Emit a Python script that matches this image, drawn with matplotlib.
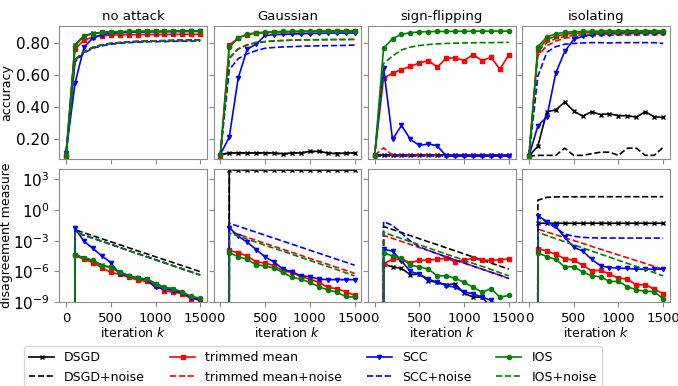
import matplotlib
matplotlib.use('Agg')
import matplotlib.pyplot as plt
from matplotlib.ticker import NullLocator, FixedLocator, LogFormatterMathtext

# ---------------- data ----------------
iterations = [0, 100, 200, 300, 400, 500, 600, 700, 800, 900, 1000, 1100, 1200, 1300, 1400, 1500]
titles = ["no attack", "Gaussian", "sign-flipping", "isolating"]
methods = ["DSGD", "DSGD+noise", "trimmed mean", "trimmed mean+noise", "SCC", "SCC+noise", "IOS", "IOS+noise"]

# accuracy -- no attack
acc_na_dsgd = [0.10, 0.785, 0.842, 0.858, 0.864, 0.867, 0.868, 0.869, 0.87, 0.87, 0.871, 0.871, 0.871, 0.872, 0.872, 0.872]
acc_na_dsgd_n = [0.09, 0.69, 0.74, 0.77, 0.785, 0.795, 0.80, 0.805, 0.808, 0.81, 0.812, 0.813, 0.815, 0.816, 0.817, 0.818]
acc_na_tm = [0.09, 0.76, 0.815, 0.835, 0.843, 0.847, 0.849, 0.85, 0.85, 0.851, 0.851, 0.851, 0.852, 0.852, 0.852, 0.852]
acc_na_tm_n = [0.09, 0.69, 0.74, 0.77, 0.785, 0.795, 0.80, 0.804, 0.806, 0.808, 0.81, 0.811, 0.812, 0.813, 0.814, 0.815]
acc_na_scc = [0.11, 0.545, 0.77, 0.83, 0.85, 0.858, 0.862, 0.864, 0.866, 0.867, 0.868, 0.868, 0.869, 0.869, 0.87, 0.87]
acc_na_scc_n = [0.11, 0.68, 0.735, 0.765, 0.78, 0.79, 0.796, 0.80, 0.803, 0.805, 0.806, 0.807, 0.808, 0.809, 0.81, 0.81]
acc_na_ios = [0.09, 0.78, 0.84, 0.857, 0.864, 0.867, 0.869, 0.87, 0.87, 0.871, 0.871, 0.871, 0.872, 0.872, 0.872, 0.873]
acc_na_ios_n = [0.09, 0.695, 0.745, 0.772, 0.787, 0.796, 0.801, 0.805, 0.808, 0.81, 0.811, 0.812, 0.813, 0.814, 0.815, 0.816]

# accuracy -- Gaussian
acc_g_dsgd = [0.10, 0.11, 0.11, 0.11, 0.11, 0.11, 0.11, 0.105, 0.11, 0.11, 0.12, 0.12, 0.11, 0.105, 0.11, 0.11]
acc_g_dsgd_n = [0.10, 0.11, 0.11, 0.11, 0.11, 0.11, 0.11, 0.10, 0.11, 0.11, 0.115, 0.12, 0.11, 0.11, 0.105, 0.11]
acc_g_tm = [0.09, 0.785, 0.83, 0.85, 0.858, 0.862, 0.864, 0.866, 0.867, 0.868, 0.869, 0.87, 0.87, 0.871, 0.871, 0.872]
acc_g_tm_n = [0.10, 0.70, 0.76, 0.785, 0.80, 0.806, 0.81, 0.813, 0.815, 0.816, 0.817, 0.818, 0.818, 0.819, 0.819, 0.82]
acc_g_scc = [0.10, 0.21, 0.58, 0.76, 0.79, 0.845, 0.85, 0.852, 0.854, 0.856, 0.857, 0.858, 0.859, 0.86, 0.86, 0.86]
acc_g_scc_n = [0.10, 0.63, 0.70, 0.73, 0.75, 0.765, 0.77, 0.773, 0.775, 0.777, 0.779, 0.78, 0.781, 0.782, 0.783, 0.785]
acc_g_ios = [0.10, 0.77, 0.83, 0.853, 0.862, 0.866, 0.868, 0.87, 0.871, 0.872, 0.872, 0.873, 0.873, 0.874, 0.874, 0.875]
acc_g_ios_n = [0.10, 0.705, 0.762, 0.787, 0.80, 0.807, 0.811, 0.814, 0.816, 0.817, 0.818, 0.819, 0.82, 0.82, 0.821, 0.821]

# accuracy -- sign-flipping
acc_s_dsgd = [0.095, 0.095, 0.095, 0.095, 0.095, 0.095, 0.095, 0.095, 0.095, 0.095, 0.095, 0.095, 0.095, 0.095, 0.095, 0.095]
acc_s_dsgd_n = [0.095, 0.095, 0.095, 0.095, 0.095, 0.095, 0.095, 0.095, 0.095, 0.095, 0.095, 0.095, 0.095, 0.095, 0.095, 0.095]
acc_s_tm = [0.095, 0.58, 0.608, 0.632, 0.652, 0.673, 0.688, 0.647, 0.703, 0.705, 0.688, 0.725, 0.688, 0.708, 0.634, 0.725]
acc_s_tm_n = [0.095, 0.142, 0.095, 0.095, 0.095, 0.095, 0.095, 0.095, 0.095, 0.095, 0.095, 0.095, 0.095, 0.095, 0.095, 0.095]
acc_s_scc = [0.09, 0.64, 0.195, 0.282, 0.195, 0.157, 0.166, 0.155, 0.09, 0.09, 0.09, 0.09, 0.09, 0.09, 0.09, 0.09]
acc_s_scc_n = [0.09, 0.09, 0.09, 0.09, 0.09, 0.09, 0.09, 0.09, 0.09, 0.09, 0.09, 0.09, 0.09, 0.09, 0.09, 0.09]
acc_s_ios = [0.09, 0.765, 0.825, 0.852, 0.862, 0.867, 0.869, 0.87, 0.87, 0.871, 0.871, 0.871, 0.872, 0.872, 0.872, 0.872]
acc_s_ios_n = [0.09, 0.669, 0.716, 0.755, 0.772, 0.782, 0.788, 0.792, 0.795, 0.797, 0.798, 0.799, 0.80, 0.80, 0.801, 0.802]

# accuracy -- isolating
acc_i_dsgd = [0.09, 0.153, 0.368, 0.379, 0.428, 0.372, 0.34, 0.368, 0.35, 0.355, 0.343, 0.343, 0.334, 0.368, 0.336, 0.332]
acc_i_dsgd_n = [0.09, 0.095, 0.095, 0.095, 0.14, 0.095, 0.095, 0.105, 0.115, 0.115, 0.095, 0.14, 0.14, 0.095, 0.095, 0.145]
acc_i_tm = [0.09, 0.755, 0.82, 0.84, 0.852, 0.858, 0.862, 0.864, 0.865, 0.866, 0.867, 0.867, 0.868, 0.868, 0.868, 0.868]
acc_i_tm_n = [0.09, 0.72, 0.78, 0.81, 0.828, 0.835, 0.84, 0.843, 0.845, 0.846, 0.847, 0.848, 0.848, 0.849, 0.849, 0.85]
acc_i_scc = [0.09, 0.28, 0.335, 0.61, 0.745, 0.82, 0.84, 0.85, 0.855, 0.857, 0.858, 0.859, 0.86, 0.86, 0.86, 0.86]
acc_i_scc_n = [0.09, 0.59, 0.74, 0.775, 0.79, 0.795, 0.798, 0.80, 0.80, 0.798, 0.80, 0.80, 0.80, 0.80, 0.80, 0.795]
acc_i_ios = [0.09, 0.775, 0.835, 0.855, 0.865, 0.868, 0.87, 0.871, 0.872, 0.873, 0.873, 0.874, 0.874, 0.875, 0.875, 0.875]
acc_i_ios_n = [0.09, 0.745, 0.80, 0.825, 0.838, 0.845, 0.85, 0.852, 0.854, 0.855, 0.856, 0.857, 0.857, 0.858, 0.858, 0.858]

# disagreement -- no attack
dis_na_dsgd = [0, 4.2e-5, 2.0e-5, 1.1e-5, 3.8e-6, 2.4e-6, 8.0e-7, 3.8e-7, 2.0e-7, 1.8e-7, 6.3e-8, 2.5e-8, 1.8e-8, 8.0e-9, 3.0e-9, 2.0e-9]
dis_na_dsgd_n = [0, 1.17e-2, 6.0e-3, 3.0e-3, 1.55e-3, 7.8e-4, 4.0e-4, 2.0e-4, 1.0e-4, 5.2e-5, 2.6e-5, 1.35e-5, 6.9e-6, 3.5e-6, 1.8e-6, 9.0e-7]
dis_na_tm = [0, 3.6e-5, 1.5e-5, 7.1e-6, 2.3e-6, 7.6e-7, 5.2e-7, 2.5e-7, 1.4e-7, 1.0e-7, 3.9e-8, 1.26e-8, 8.9e-9, 6.3e-9, 2.0e-9, 1.6e-9]
dis_na_tm_n = [0, 6.9e-3, 3.5e-3, 1.75e-3, 8.7e-4, 4.4e-4, 2.2e-4, 1.07e-4, 5.4e-5, 2.7e-5, 1.35e-5, 6.8e-6, 3.4e-6, 1.7e-6, 8.5e-7, 4.3e-7]
dis_na_scc = [0, 1.7e-2, 8.7e-4, 1.74e-4, 3.16e-5, 7.1e-6, 5.2e-7, 3.5e-7, 2.1e-7, 1.4e-7, 2.7e-8, 1.9e-8, 1.26e-8, 7.1e-9, 2.5e-9, 1.4e-9]
dis_na_scc_n = [0, 7.0e-3, 3.5e-3, 1.76e-3, 8.8e-4, 4.4e-4, 2.2e-4, 1.08e-4, 5.4e-5, 2.7e-5, 1.36e-5, 6.8e-6, 3.4e-6, 1.7e-6, 8.6e-7, 4.3e-7]
dis_na_ios = [0, 4.0e-5, 2.1e-5, 1.26e-5, 3.4e-6, 2.7e-6, 7.6e-7, 3.5e-7, 2.1e-7, 1.7e-7, 5.8e-8, 2.7e-8, 1.9e-8, 8.9e-9, 3.4e-9, 2.3e-9]
dis_na_ios_n = [0, 6.8e-3, 3.4e-3, 1.7e-3, 8.6e-4, 4.3e-4, 2.15e-4, 1.06e-4, 5.3e-5, 2.65e-5, 1.33e-5, 6.7e-6, 3.35e-6, 1.68e-6, 8.4e-7, 4.2e-7]

# disagreement -- Gaussian
dis_g_dsgd = [0, 9.0e3, 9.0e3, 9.0e3, 9.0e3, 9.0e3, 9.0e3, 9.0e3, 9.0e3, 9.0e3, 9.0e3, 9.0e3, 9.0e3, 9.0e3, 9.0e3, 9.0e3]
dis_g_dsgd_n = [0, 8.5e3, 8.5e3, 8.5e3, 8.5e3, 8.5e3, 8.5e3, 8.5e3, 8.5e3, 8.5e3, 8.5e3, 8.5e3, 8.5e3, 8.5e3, 8.5e3, 8.5e3]
dis_g_tm = [0, 1.1e-4, 6.5e-5, 3.1e-5, 8.1e-6, 6.5e-6, 3.4e-6, 1.1e-6, 7.6e-7, 2.9e-7, 1.7e-7, 8.1e-8, 2.7e-8, 1.9e-8, 1.0e-8, 4.3e-9]
dis_g_tm_n = [0, 8.1e-3, 4.2e-3, 2.1e-3, 1.07e-3, 5.4e-4, 2.75e-4, 1.4e-4, 7.1e-5, 3.6e-5, 1.8e-5, 9.3e-6, 4.8e-6, 2.4e-6, 1.23e-6, 6.2e-7]
dis_g_scc = [0, 1.95e-2, 2.7e-3, 7.1e-4, 1.35e-4, 2.5e-5, 8.1e-6, 1.6e-6, 8.9e-7, 3.6e-7, 2.9e-7, 1.7e-7, 1.5e-7, 1.5e-7, 1.48e-7, 1.5e-7]
dis_g_scc_n = [0, 5.1e-2, 2.6e-2, 1.3e-2, 6.8e-3, 3.4e-3, 1.74e-3, 8.9e-4, 4.5e-4, 2.3e-4, 1.15e-4, 5.9e-5, 3.0e-5, 1.5e-5, 7.8e-6, 3.9e-6]
dis_g_ios = [0, 6.5e-5, 2.7e-5, 1.5e-5, 4.2e-6, 3.4e-6, 2.0e-6, 7.6e-7, 2.5e-7, 1.7e-7, 8.1e-8, 3.1e-8, 1.5e-8, 8.9e-9, 3.4e-9, 2.9e-9]
dis_g_ios_n = [0, 5.6e-3, 2.8e-3, 1.4e-3, 7.1e-4, 3.5e-4, 1.8e-4, 9.1e-5, 4.6e-5, 2.3e-5, 1.15e-5, 5.8e-6, 2.9e-6, 1.45e-6, 7.2e-7, 3.6e-7]

# disagreement -- sign-flipping
dis_s_dsgd = [0, 4.9e-6, 2.7e-6, 1.9e-6, 4.6e-7, 5.2e-7, 1.2e-7, 8.1e-8, 4.9e-8, 5.6e-8, 7.1e-9, 2.9e-9, 2.9e-9, 3.2e-10, 1.0e-10, 3.2e-11]
dis_s_dsgd_n = [0, 2.45e-2, 1.23e-2, 6.2e-3, 3.1e-3, 1.55e-3, 7.8e-4, 4.0e-4, 2.0e-4, 1.0e-4, 5.0e-5, 2.5e-5, 1.26e-5, 6.3e-6, 3.2e-6, 1.6e-6]
dis_s_tm = [0, 5.6e-6, 1.5e-5, 1.5e-5, 7.1e-6, 1.17e-5, 1.26e-5, 1.5e-5, 1.9e-5, 8.7e-6, 1.26e-5, 1.9e-5, 1.17e-5, 1.26e-5, 1.26e-5, 1.7e-5]
dis_s_tm_n = [0, 3.3e-3, 1.66e-3, 8.3e-4, 4.2e-4, 2.1e-4, 1.05e-4, 5.2e-5, 2.6e-5, 1.3e-5, 6.5e-6, 3.2e-6, 1.6e-6, 8.1e-7, 4.1e-7, 2.0e-7]
dis_s_scc = [0, 1.4e-4, 9.5e-5, 1.0e-5, 9.5e-7, 5.2e-7, 1.7e-7, 8.1e-8, 3.9e-8, 2.7e-8, 8.9e-9, 6.3e-9, 2.9e-9, 1.4e-9, 2.5e-10, 6.3e-11]
dis_s_scc_n = [0, 7.4e-2, 3.1e-2, 5.6e-3, 8.9e-4, 2.5e-4, 1.1e-4, 5.4e-5, 2.5e-5, 1.26e-5, 6.3e-6, 3.2e-6, 1.6e-6, 7.9e-7, 4.0e-7, 1.9e-7]
dis_s_ios = [0, 6.5e-5, 3.1e-5, 1.9e-5, 3.9e-6, 2.7e-6, 1.6e-6, 3.6e-7, 3.6e-7, 2.1e-7, 8.1e-8, 2.7e-8, 8.9e-9, 1.9e-8, 2.9e-9, 4.3e-9]
dis_s_ios_n = [0, 6.5e-3, 3.2e-3, 1.6e-3, 7.9e-4, 3.9e-4, 1.95e-4, 9.8e-5, 4.8e-5, 2.4e-5, 1.2e-5, 5.9e-6, 3.0e-6, 1.5e-6, 7.2e-7, 3.6e-7]

# disagreement -- isolating
dis_i_dsgd = [0, 5.1e-2, 5.1e-2, 5.1e-2, 5.1e-2, 5.1e-2, 5.1e-2, 5.1e-2, 5.1e-2, 5.1e-2, 5.1e-2, 5.1e-2, 5.1e-2, 5.1e-2, 5.1e-2, 5.1e-2]
dis_i_dsgd_n = [0, 9.3, 17.8, 19.5, 20.0, 20.0, 20.2, 20.2, 20.3, 20.3, 20.3, 20.4, 20.4, 20.4, 20.4, 20.4]
dis_i_tm = [0, 1.7e-4, 9.5e-5, 4.5e-5, 1.7e-5, 1.17e-5, 3.9e-6, 1.1e-6, 1.26e-6, 5.2e-7, 2.1e-7, 1.7e-7, 4.5e-8, 4.9e-8, 1.74e-8, 6.3e-9]
dis_i_tm_n = [0, 1.35e-2, 7.1e-3, 3.7e-3, 1.95e-3, 1.02e-3, 5.4e-4, 2.75e-4, 1.45e-4, 7.6e-5, 4.0e-5, 2.1e-5, 1.1e-5, 5.8e-6, 3.0e-6, 1.6e-6]
dis_i_scc = [0, 0.28, 7.4e-2, 2.45e-2, 2.1e-3, 2.3e-4, 9.5e-5, 1.5e-5, 3.4e-6, 2.3e-6, 2.0e-6, 1.9e-6, 1.6e-6, 1.6e-6, 1.6e-6, 1.6e-6]
dis_i_scc_n = [0, 0.22, 6.5e-2, 1.7e-2, 4.5e-3, 2.7e-3, 2.1e-3, 1.9e-3, 1.85e-3, 1.8e-3, 1.8e-3, 1.8e-3, 1.8e-3, 1.8e-3, 1.8e-3, 1.8e-3]
dis_i_ios = [0, 6.5e-5, 2.7e-5, 1.5e-5, 2.7e-6, 2.7e-6, 8.9e-7, 3.6e-7, 2.9e-7, 1.0e-7, 1.0e-7, 3.1e-8, 1.5e-8, 1.1e-8, 1.0e-8, 2.0e-9]
dis_i_ios_n = [0, 6.5e-3, 3.2e-3, 1.6e-3, 7.9e-4, 3.9e-4, 1.95e-4, 9.8e-5, 4.8e-5, 2.4e-5, 1.2e-5, 5.9e-6, 3.0e-6, 1.5e-6, 7.2e-7, 3.6e-7]

acc_table = [
    [acc_na_dsgd, acc_na_dsgd_n, acc_na_tm, acc_na_tm_n, acc_na_scc, acc_na_scc_n, acc_na_ios, acc_na_ios_n],
    [acc_g_dsgd, acc_g_dsgd_n, acc_g_tm, acc_g_tm_n, acc_g_scc, acc_g_scc_n, acc_g_ios, acc_g_ios_n],
    [acc_s_dsgd, acc_s_dsgd_n, acc_s_tm, acc_s_tm_n, acc_s_scc, acc_s_scc_n, acc_s_ios, acc_s_ios_n],
    [acc_i_dsgd, acc_i_dsgd_n, acc_i_tm, acc_i_tm_n, acc_i_scc, acc_i_scc_n, acc_i_ios, acc_i_ios_n],
]
dis_table = [
    [dis_na_dsgd, dis_na_dsgd_n, dis_na_tm, dis_na_tm_n, dis_na_scc, dis_na_scc_n, dis_na_ios, dis_na_ios_n],
    [dis_g_dsgd, dis_g_dsgd_n, dis_g_tm, dis_g_tm_n, dis_g_scc, dis_g_scc_n, dis_g_ios, dis_g_ios_n],
    [dis_s_dsgd, dis_s_dsgd_n, dis_s_tm, dis_s_tm_n, dis_s_scc, dis_s_scc_n, dis_s_ios, dis_s_ios_n],
    [dis_i_dsgd, dis_i_dsgd_n, dis_i_tm, dis_i_tm_n, dis_i_scc, dis_i_scc_n, dis_i_ios, dis_i_ios_n],
]

# ---------------- style ----------------
colors = ['black', 'black', 'red', 'red', 'blue', 'blue', 'green', 'green']
markers = ['x', None, 's', None, 'v', None, 'o', None]
linestyles = ['-', '--', '-', '--', '-', '--', '-', '--']

plt.rcParams['font.family'] = ['DejaVu Sans']
plt.rcParams['font.size'] = 9
plt.rcParams['axes.edgecolor'] = '0.55'
plt.rcParams['xtick.color'] = '0.55'
plt.rcParams['ytick.color'] = '0.55'
plt.rcParams['xtick.labelcolor'] = 'black'
plt.rcParams['ytick.labelcolor'] = 'black'
plt.rcParams['xtick.labelsize'] = 9.5
plt.rcParams['ytick.labelsize'] = 11

fig = plt.figure(figsize=(6.78, 3.86), dpi=100)
gs = fig.add_gridspec(2, 4, left=0.0875, right=0.988, top=0.933, bottom=0.218,
                      wspace=0.045, hspace=0.075)
axes = [[None] * 4 for _ in range(2)]
for r in range(2):
    for c in range(4):
        kw = {}
        if c > 0:
            kw['sharey'] = axes[r][0]
        if r > 0:
            kw['sharex'] = axes[0][c]
        axes[r][c] = fig.add_subplot(gs[r, c], **kw)

handles = []
for c in range(4):
    for r, table in enumerate([acc_table, dis_table]):
        ax = axes[r][c]
        for k in range(8):
            ln, = ax.plot(iterations, table[c][k], color=colors[k], linestyle=linestyles[k],
                          marker=markers[k], markersize=3, linewidth=1.2, label=methods[k])
            if r == 0 and c == 0:
                handles.append(ln)

for c in range(4):
    ax = axes[0][c]
    ax.set_title(titles[c], fontsize=9.5, pad=4)
    ax.set_ylim(0.073, 0.905)
    ax.set_yticks([0.2, 0.4, 0.6, 0.8])
    ax.set_yticklabels(['0.20', '0.40', '0.60', '0.80'])
    ax.tick_params(labelbottom=False)
    ax.set_xlim(-75, 1575)
    ax.set_xticks([0, 500, 1000, 1500])
    axb = axes[1][c]
    axb.set_yscale('log')
    axb.set_ylim(1e-9, 1.1e4)
    axb.yaxis.set_major_locator(FixedLocator([1e-9, 1e-6, 1e-3, 1e0, 1e3]))
    axb.yaxis.set_major_formatter(LogFormatterMathtext())
    axb.yaxis.set_minor_locator(NullLocator())
    axb.set_xlabel('iteration $k$', labelpad=1)
    if c > 0:
        ax.tick_params(labelleft=False)
        axb.tick_params(labelleft=False)

axes[0][0].set_ylabel('accuracy', labelpad=2)
axes[1][0].set_ylabel('disagreement measure', labelpad=0)

fig.legend(handles, methods, ncol=4, loc='upper left', bbox_to_anchor=(0.0265, 0.119),
           fontsize=9, frameon=True, handlelength=2.0, columnspacing=2.0)

fig.savefig('out.png', dpi=100)
